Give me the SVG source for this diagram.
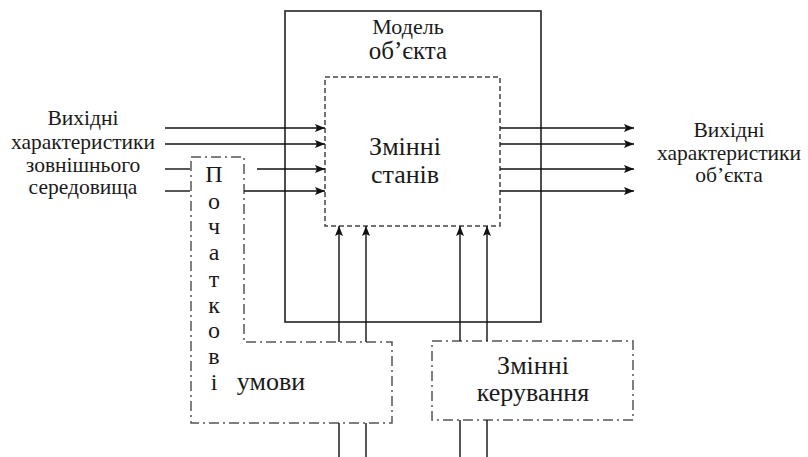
<svg xmlns="http://www.w3.org/2000/svg" width="808" height="457" viewBox="0 0 808 457">
<style>
text{font-family:"Liberation Serif","Times New Roman",serif;fill:#1a1a1a;font-size:22px;text-anchor:middle}
text.big{font-size:26px}
text.mid{font-size:25px}
text.v{font-size:24px}
text.lab{font-size:21.5px}
.ln{stroke:#111;stroke-width:1.4;fill:none}
.outer{stroke:#222;stroke-width:1.6;fill:none}
.dash{stroke:#444;stroke-width:1.5;fill:none;stroke-dasharray:5 3}
.dd{stroke:#555;stroke-width:1.5;fill:none;stroke-dasharray:10 4 2 4}
</style>
<defs>
<marker id="ah" viewBox="0 0 10 8" refX="10" refY="4" markerWidth="10" markerHeight="8" markerUnits="userSpaceOnUse" orient="auto">
<path d="M0,0 L10,4 L0,8 L2,4 Z" fill="#111"/>
</marker>
</defs>
<g id="model">
<rect class="outer" x="285" y="11" width="256" height="311"/>
<text x="408" y="34">Модель</text>
<text class="mid" x="408" y="59">об’єкта</text>
</g>
<g id="state">
<rect class="dash" x="325" y="77" width="175" height="149"/>
<text class="big" x="405" y="155">Змінні</text>
<text class="big" x="405" y="183">станів</text>
</g>
<g id="initial">
<path class="dd" d="M191,157 H244 V342 H392 V423 H191 Z"/>
<text class="v" x="214" y="182">П</text>
<text class="v" x="214" y="209">о</text>
<text class="v" x="214" y="234">ч</text>
<text class="v" x="214" y="260">а</text>
<text class="v" x="214" y="287">т</text>
<text class="v" x="214" y="313">к</text>
<text class="v" x="214" y="338">о</text>
<text class="v" x="214" y="364">в</text>
<text class="v" x="214" y="390">і</text>
<text class="big" x="271" y="390">умови</text>
</g>
<g id="control">
<rect class="dd" x="432" y="341" width="201" height="79"/>
<text class="big" x="533" y="374">Змінні</text>
<text class="big" x="533" y="401">керування</text>
</g>
<g id="labels-in">
<text class="lab" x="83" y="125">Вихідні</text>
<text class="lab" x="83" y="149">характеристики</text>
<text class="lab" x="83" y="172">зовнішнього</text>
<text class="lab" x="83" y="194">середовища</text>
</g>
<g id="labels-out">
<text class="lab" x="729" y="137">Вихідні</text>
<text class="lab" x="729" y="160">характеристики</text>
<text class="lab" x="729" y="182">об’єкта</text>
</g>
<g id="connectors">
<line class="ln" x1="165" y1="128" x2="325" y2="128" marker-end="url(#ah)"/>
<line class="ln" x1="165" y1="144" x2="325" y2="144" marker-end="url(#ah)"/>
<line class="ln" x1="165" y1="169" x2="190" y2="169"/>
<line class="ln" x1="257" y1="169" x2="325" y2="169" marker-end="url(#ah)"/>
<line class="ln" x1="165" y1="191" x2="190" y2="191"/>
<line class="ln" x1="244" y1="191" x2="325" y2="191" marker-end="url(#ah)"/>
<line class="ln" x1="500" y1="128" x2="634" y2="128" marker-end="url(#ah)"/>
<line class="ln" x1="500" y1="144" x2="634" y2="144" marker-end="url(#ah)"/>
<line class="ln" x1="500" y1="169" x2="634" y2="169" marker-end="url(#ah)"/>
<line class="ln" x1="500" y1="191" x2="634" y2="191" marker-end="url(#ah)"/>
<line class="ln" x1="339" y1="342" x2="339" y2="226" marker-end="url(#ah)"/>
<line class="ln" x1="366" y1="342" x2="366" y2="226" marker-end="url(#ah)"/>
<line class="ln" x1="460" y1="341" x2="460" y2="226" marker-end="url(#ah)"/>
<line class="ln" x1="487" y1="341" x2="487" y2="226" marker-end="url(#ah)"/>
<line class="ln" x1="339" y1="423" x2="339" y2="457"/>
<line class="ln" x1="366" y1="423" x2="366" y2="457"/>
<line class="ln" x1="460" y1="420" x2="460" y2="457"/>
<line class="ln" x1="487" y1="420" x2="487" y2="457"/>
</g>
</svg>
